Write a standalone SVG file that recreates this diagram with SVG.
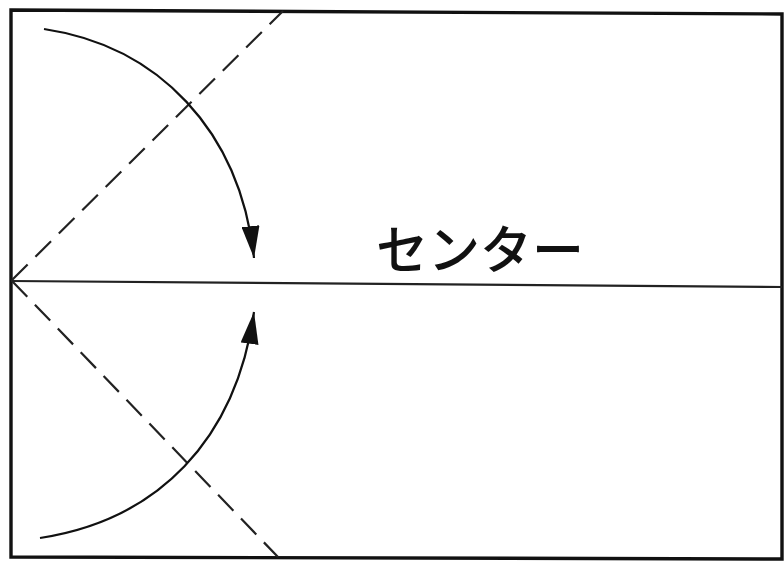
<svg xmlns="http://www.w3.org/2000/svg" width="784" height="565" viewBox="0 0 784 565">
<style>
.frame{fill:none;stroke:#111;stroke-width:3.4}
.center{stroke:#222;stroke-width:2.2;fill:none}
.dash{stroke:#222;stroke-width:2.2;fill:none;stroke-dasharray:22 11}
.arc{stroke:#111;stroke-width:2.2;fill:none}
.label{font-family:"Noto Sans CJK JP","Noto Sans",sans-serif;font-size:52px;font-weight:500;fill:#111}
</style>
<defs>
<marker id="arr" viewBox="0 0 32 18" refX="32" refY="9" markerWidth="32" markerHeight="18" markerUnits="userSpaceOnUse" orient="auto">
<path d="M0,0 L32,9 L0,18 Z" fill="#111"/>
</marker>
</defs>
<g id="paper">
<path class="frame" d="M11,10 L782,14 L782,559 L11,557 Z"/>
<line class="center" x1="11" y1="281" x2="782" y2="287"/>
</g>
<g id="folds">
<line class="dash" x1="12" y1="280" x2="283" y2="11"/>
<line class="dash" x1="12" y1="281" x2="278" y2="557"/>
</g>
<g id="label">
<text class="label" x="376" y="269">センター</text>
</g>
<g id="connectors">
<path class="arc" d="M44,29 C158,46 240,130 254,258" marker-end="url(#arr)"/>
<path class="arc" d="M40,538 C158,520 236,440 254,312" marker-end="url(#arr)"/>
</g>
</svg>
